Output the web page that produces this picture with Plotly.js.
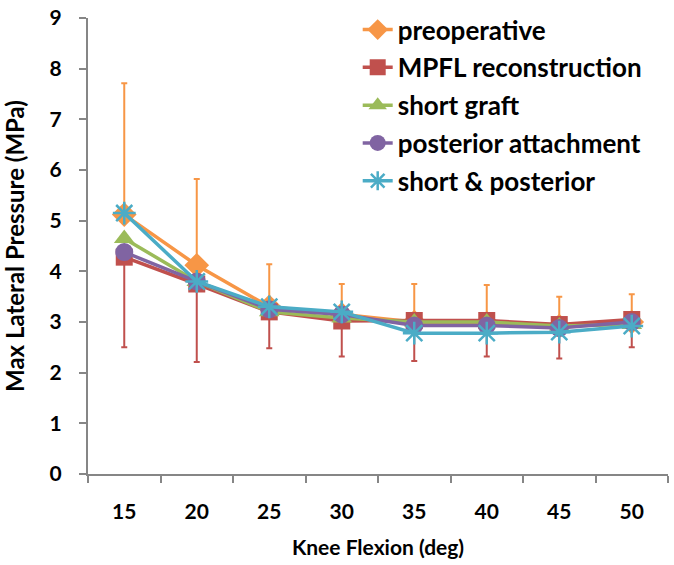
<!DOCTYPE html>
<html><head><meta charset="utf-8">
<script src="https://cdn.plot.ly/plotly-3.0.1.min.js"></script>
<style>html,body{margin:0;padding:0;background:#fff}</style>
</head><body>
<div id="chart" style="width:674px;height:565px"></div>
<script>
const categories = ["15","20","25","30","35","40","45","50"];
const preoperative = [5.12, 4.12, 3.30, 3.15, 3.00, 2.98, 2.92, 3.00];
const preoperativeErrUp = [2.59, 1.70, 0.84, 0.60, 0.75, 0.75, 0.58, 0.55];
const mpfl = [4.28, 3.75, 3.20, 3.02, 3.03, 3.03, 2.95, 3.05];
const mpflErrDown = [1.78, 1.54, 0.72, 0.70, 0.80, 0.71, 0.67, 0.55];
const shortGraft = [4.65, 3.80, 3.20, 3.08, 3.00, 3.00, 2.92, 2.95];
const posterior = [4.38, 3.80, 3.25, 3.15, 2.93, 2.93, 2.88, 3.00];
const shortPosterior = [5.15, 3.80, 3.30, 3.20, 2.78, 2.78, 2.80, 2.92];
const yTicks = [0, 1, 2, 3, 4, 5, 6, 7, 8, 9];
const names = ["preoperative","MPFL reconstruction","short graft","posterior attachment","short &amp; posterior"];

const traces = [
 {x:categories,y:preoperative,name:names[0],legendgroup:"a",mode:"lines+markers",
  line:{color:"#F79646",width:3.5},marker:{symbol:"diamond",size:19,color:"#F79646"},
  error_y:{type:"data",symmetric:false,array:preoperativeErrUp,arrayminus:preoperativeErrUp.map(()=>0),color:"#F79646",thickness:2,width:3}},
 {x:categories,y:mpfl,name:names[1],legendgroup:"b",mode:"lines+markers",
  line:{color:"#C0504D",width:3.5},marker:{symbol:"square",size:17,color:"#C0504D"},
  error_y:{type:"data",symmetric:false,array:mpflErrDown.map(()=>0),arrayminus:mpflErrDown,color:"#C0504D",thickness:2,width:3}},
 {x:categories,y:shortGraft,name:names[2],legendgroup:"c",mode:"lines+markers",
  line:{color:"#9BBB59",width:3.5},marker:{symbol:"triangle-up",size:18,color:"#9BBB59"}},
 {x:categories,y:posterior,name:names[3],legendgroup:"d",mode:"lines+markers",
  line:{color:"#8064A2",width:3.5},marker:{symbol:"circle",size:18,color:"#8064A2"}},
 {x:categories,y:shortPosterior,name:names[4],legendgroup:"e",mode:"lines+markers",
  line:{color:"#4BACC6",width:3.5},marker:{symbol:"asterisk-open",size:19,color:"#4BACC6",line:{color:"#4BACC6",width:2.5}}}
];

const fam = "Lato, 'Open Sans', sans-serif";
const layout = {
 width:674,height:565,
 margin:{l:88,r:6,t:13,b:91},
 paper_bgcolor:"#fff",plot_bgcolor:"#fff",
 font:{family:fam,size:21,color:"#000",weight:"bold"},
 showlegend:true,
 legend:{x:0.465,y:1.026,xanchor:"left",yanchor:"top",bgcolor:"rgba(0,0,0,0)",
   font:{family:fam,size:26,color:"#000",weight:"bold"},
   traceorder:"grouped",tracegroupgap:1,itemwidth:30},
 xaxis:{type:"category",range:[-0.5,7.5],tickson:"boundaries",ticks:"outside",ticklen:7,tickwidth:1.5,tickcolor:"#868686",
   showline:true,linecolor:"#868686",linewidth:2,showgrid:false,zeroline:false,
   tickfont:{family:fam,size:21,color:"#000",weight:"bold"},ticklabelstandoff:18,
   title:{text:"Knee Flexion (deg)",font:{family:fam,size:21,color:"#000",weight:"bold"},standoff:18}},
 yaxis:{range:[0,9],tickmode:"array",tickvals:yTicks,ticktext:yTicks.map(String),ticks:"outside",ticklen:7,tickwidth:1.5,tickcolor:"#868686",
   showline:true,linecolor:"#868686",linewidth:2,showgrid:false,zeroline:false,
   tickfont:{family:fam,size:21,color:"#000",weight:"bold"},ticklabelstandoff:13,
   title:{text:"Max Lateral Pressure (MPa)",font:{family:fam,size:24,color:"#000",weight:"bold"},standoff:18}}
};
Plotly.newPlot("chart",traces,layout,{displayModeBar:false});
</script>
</body></html>
